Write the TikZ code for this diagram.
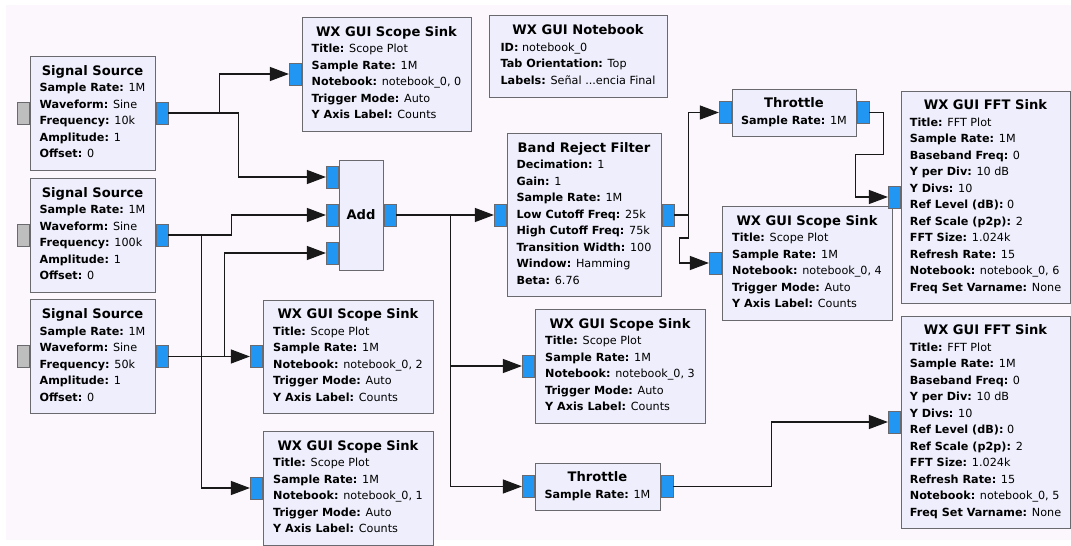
\documentclass[tikz,border=0pt]{standalone}
\usepackage{fontspec}
\setmainfont{DejaVu Sans}
\usepackage{tikz}
\usetikzlibrary{arrows.meta,positioning,calc}

\definecolor{canvas}{RGB}{252,247,252}
\definecolor{blockfill}{RGB}{238,238,252}
\definecolor{blockline}{RGB}{105,105,110}
\definecolor{portblue}{RGB}{33,150,243}
\definecolor{portgray}{RGB}{190,190,190}
\definecolor{wire}{RGB}{25,25,25}

% block text helpers
\newcommand{\ttl}[1]{\multicolumn{1}{@{}c@{}}{\fontsize{13.1}{16.5}\selectfont\bfseries #1}}
\newcommand{\prm}[2]{\textbf{#1:} #2}

\begin{document}
\begin{tikzpicture}[
    x=1pt, y=-1pt,
    block/.style={rectangle, draw=blockline, fill=blockfill, line width=1pt, inner sep=0pt,
                  font=\fontsize{11.2}{16.5}\selectfont},
    inport/.style={rectangle, draw=blockline, fill=portblue, line width=0.6pt, inner sep=0pt,
                   minimum width=12pt, minimum height=22pt, anchor=east},
    outport/.style={inport, anchor=west},
    dead/.style={inport, fill=portgray},
    connector/.style={-{Triangle[length=19pt,width=14pt]}, line width=1.1pt, draw=wire}
]
    \useasboundingbox (0,0) rectangle (1071,546);
    \fill[canvas] (6,5) rectangle (1071,540);

    % Sources
    \node[block, minimum width=125pt, minimum height=114pt] (ss1) at (92.5,113) {\begin{tabular}{@{}l@{}}
        \ttl{Signal Source}\\ \prm{Sample Rate}{1M}\\ \prm{Waveform}{Sine}\\
        \prm{Frequency}{10k}\\ \prm{Amplitude}{1}\\ \prm{Offset}{0}\end{tabular}};
    \node[block, minimum width=125pt, minimum height=114pt] (ss2) at (92.5,235) {\begin{tabular}{@{}l@{}}
        \ttl{Signal Source}\\ \prm{Sample Rate}{1M}\\ \prm{Waveform}{Sine}\\
        \prm{Frequency}{100k}\\ \prm{Amplitude}{1}\\ \prm{Offset}{0}\end{tabular}};
    \node[block, minimum width=125pt, minimum height=114pt] (ss3) at (92.5,356.5) {\begin{tabular}{@{}l@{}}
        \ttl{Signal Source}\\ \prm{Sample Rate}{1M}\\ \prm{Waveform}{Sine}\\
        \prm{Frequency}{50k}\\ \prm{Amplitude}{1}\\ \prm{Offset}{0}\end{tabular}};

    % Scope sinks
    \node[block, minimum width=169pt, minimum height=114pt] (sc0) at (386.5,74) {\begin{tabular}{@{}l@{}}
        \ttl{WX GUI Scope Sink}\\ \prm{Title}{Scope Plot}\\ \prm{Sample Rate}{1M}\\
        \prm{Notebook}{notebook\_0, 0}\\ \prm{Trigger Mode}{Auto}\\ \prm{Y Axis Label}{Counts}\end{tabular}};
    \node[block, minimum width=170pt, minimum height=113pt] (sc2) at (348,356.5) {\begin{tabular}{@{}l@{}}
        \ttl{WX GUI Scope Sink}\\ \prm{Title}{Scope Plot}\\ \prm{Sample Rate}{1M}\\
        \prm{Notebook}{notebook\_0, 2}\\ \prm{Trigger Mode}{Auto}\\ \prm{Y Axis Label}{Counts}\end{tabular}};
    \node[block, minimum width=170pt, minimum height=114pt] (sc1) at (348,488) {\begin{tabular}{@{}l@{}}
        \ttl{WX GUI Scope Sink}\\ \prm{Title}{Scope Plot}\\ \prm{Sample Rate}{1M}\\
        \prm{Notebook}{notebook\_0, 1}\\ \prm{Trigger Mode}{Auto}\\ \prm{Y Axis Label}{Counts}\end{tabular}};
    \node[block, minimum width=170pt, minimum height=114pt] (sc3) at (620,366) {\begin{tabular}{@{}l@{}}
        \ttl{WX GUI Scope Sink}\\ \prm{Title}{Scope Plot}\\ \prm{Sample Rate}{1M}\\
        \prm{Notebook}{notebook\_0, 3}\\ \prm{Trigger Mode}{Auto}\\ \prm{Y Axis Label}{Counts}\end{tabular}};
    \node[block, minimum width=170pt, minimum height=114pt] (sc4) at (807,263) {\begin{tabular}{@{}l@{}}
        \ttl{WX GUI Scope Sink}\\ \prm{Title}{Scope Plot}\\ \prm{Sample Rate}{1M}\\
        \prm{Notebook}{notebook\_0, 4}\\ \prm{Trigger Mode}{Auto}\\ \prm{Y Axis Label}{Counts}\end{tabular}};

    % Notebook
    \node[block, minimum width=178pt, minimum height=82pt] (nb) at (578,56) {\begin{tabular}{@{}l@{}}
        \ttl{WX GUI Notebook}\\ \prm{ID}{notebook\_0}\\ \prm{Tab Orientation}{Top}\\
        \prm{Labels}{Señal ...encia Final}\end{tabular}};

    % Add, filter, throttles
    \node[block, minimum width=44pt, minimum height=110pt] (add) at (361,215) {\fontsize{13.1}{16.5}\selectfont\bfseries Add};
    \node[block, minimum width=154pt, minimum height=163pt] (brf) at (584,215) {\begin{tabular}{@{}l@{}}
        \ttl{Band Reject Filter}\\ \prm{Decimation}{1}\\ \prm{Gain}{1}\\ \prm{Sample Rate}{1M}\\
        \prm{Low Cutoff Freq}{25k}\\ \prm{High Cutoff Freq}{75k}\\ \prm{Transition Width}{100}\\
        \prm{Window}{Hamming}\\ \prm{Beta}{6.76}\end{tabular}};
    \node[block, minimum width=124pt, minimum height=47pt] (thr1) at (794,112.5) {\begin{tabular}{@{}l@{}}
        \ttl{Throttle}\\ \prm{Sample Rate}{1M}\end{tabular}};
    \node[block, minimum width=125pt, minimum height=47pt] (thr2) at (597.5,486.5) {\begin{tabular}{@{}l@{}}
        \ttl{Throttle}\\ \prm{Sample Rate}{1M}\end{tabular}};

    % FFT sinks
    \node[block, minimum width=169pt, minimum height=212pt] (fft1) at (985.5,197) {\begin{tabular}{@{}l@{}}
        \ttl{WX GUI FFT Sink}\\ \prm{Title}{FFT Plot}\\ \prm{Sample Rate}{1M}\\ \prm{Baseband Freq}{0}\\
        \prm{Y per Div}{10 dB}\\ \prm{Y Divs}{10}\\ \prm{Ref Level (dB)}{0}\\ \prm{Ref Scale (p2p)}{2}\\
        \prm{FFT Size}{1.024k}\\ \prm{Refresh Rate}{15}\\ \prm{Notebook}{notebook\_0, 6}\\
        \prm{Freq Set Varname}{None}\end{tabular}};
    \node[block, minimum width=169pt, minimum height=212pt] (fft2) at (985.5,422) {\begin{tabular}{@{}l@{}}
        \ttl{WX GUI FFT Sink}\\ \prm{Title}{FFT Plot}\\ \prm{Sample Rate}{1M}\\ \prm{Baseband Freq}{0}\\
        \prm{Y per Div}{10 dB}\\ \prm{Y Divs}{10}\\ \prm{Ref Level (dB)}{0}\\ \prm{Ref Scale (p2p)}{2}\\
        \prm{FFT Size}{1.024k}\\ \prm{Refresh Rate}{15}\\ \prm{Notebook}{notebook\_0, 5}\\
        \prm{Freq Set Varname}{None}\end{tabular}};

    % Ports
    \node[dead] (ss1in) at (ss1.west) {};
    \node[dead] (ss2in) at (ss2.west) {};
    \node[dead] (ss3in) at (ss3.west) {};
    \node[outport] (ss1out) at (ss1.east) {};
    \node[outport] (ss2out) at (ss2.east) {};
    \node[outport] (ss3out) at (ss3.east) {};
    \node[inport] (sc0in) at (sc0.west) {};
    \node[inport] (sc1in) at (sc1.west) {};
    \node[inport] (sc2in) at (sc2.west) {};
    \node[inport] (sc3in) at (sc3.west) {};
    \node[inport] (sc4in) at (sc4.west) {};
    \node[inport] (addin1) at ([yshift=38pt]add.west) {};
    \node[inport] (addin2) at (add.west) {};
    \node[inport] (addin3) at ([yshift=-38pt]add.west) {};
    \node[outport] (addout) at (add.east) {};
    \node[inport] (brfin) at (brf.west) {};
    \node[outport] (brfout) at (brf.east) {};
    \node[inport] (thr1in) at (thr1.west) {};
    \node[outport] (thr1out) at (thr1.east) {};
    \node[inport] (thr2in) at (thr2.west) {};
    \node[outport] (thr2out) at (thr2.east) {};
    \node[inport] (fft1in) at (fft1.west) {};
    \node[inport] (fft2in) at (fft2.west) {};

    % Connections
    \draw [connector] (ss1out.east) -- ++(51,0) |- (sc0in.west);
    \draw [connector] (ss1out.east) -- ++(70,0) |- (addin1.west);
    \draw [connector] (ss2out.east) -- ++(63,0) |- (addin2.west);
    \draw [connector] (ss2out.east) -- ++(33,0) |- (sc1in.west);
    \draw [connector] (ss3out.east) -- (sc2in.west);
    \draw [connector] (ss3out.east) -- ++(56,0) |- (addin3.west);
    \draw [connector] (addout.east) -- (brfin.west);
    \draw [connector] (addout.east) -- ++(54,0) |- (sc3in.west);
    \draw [connector] (addout.east) -- ++(54,0) |- (thr2in.west);
    \draw [connector] (brfout.east) -- ++(14,0) |- (thr1in.west);
    \draw [connector] (brfout.east) -- ++(14,0) -- ++(0,23) -- ++(-9,0) |- (sc4in.west);
    \draw [connector] (thr1out.east) -- ++(14,0) -- ++(0,42) -- ++(-28,0) |- (fft1in.west);
    \draw [connector] (thr2out.east) -- ++(98,0) |- (fft2in.west);
\end{tikzpicture}
\end{document}
